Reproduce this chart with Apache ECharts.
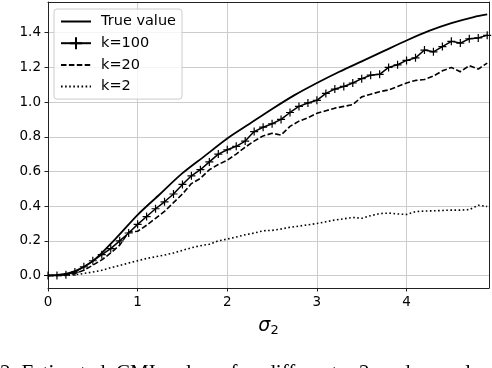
<!DOCTYPE html>
<html>
<head>
<meta charset="utf-8">
<script src="https://cdn.jsdelivr.net/npm/echarts@6/dist/echarts.min.js"></script>
<style>
  html, body { margin: 0; padding: 0; background: #fff; }
  #chart { width: 492px; height: 368px; }
</style>
</head>
<body>
<div id="chart"></div>
<script>
// sigma_2 grid of the estimates
const sigma = [0.0, 0.1, 0.2, 0.3, 0.4, 0.5, 0.6, 0.7, 0.8, 0.9,
  1.0, 1.1, 1.2, 1.3, 1.4, 1.5, 1.6, 1.7, 1.8, 1.9,
  2.0, 2.1, 2.2, 2.3, 2.4, 2.5, 2.6, 2.7, 2.8, 2.9,
  3.0, 3.1, 3.2, 3.3, 3.4, 3.5, 3.6, 3.7, 3.8, 3.9,
  4.0, 4.1, 4.2, 4.3, 4.4, 4.5, 4.6, 4.7, 4.8, 4.9];

const k100 = [0.0, 0.0, 0.004, 0.02, 0.05, 0.085, 0.12, 0.155, 0.2, 0.245,
  0.295, 0.34, 0.385, 0.425, 0.47, 0.525, 0.575, 0.61, 0.655, 0.7,
  0.725, 0.745, 0.775, 0.83, 0.855, 0.875, 0.9, 0.94, 0.975, 0.995,
  1.01, 1.05, 1.075, 1.09, 1.11, 1.135, 1.155, 1.16, 1.2, 1.215,
  1.24, 1.255, 1.3, 1.29, 1.32, 1.35, 1.34, 1.365, 1.37, 1.385];

const k20 = [0.0, 0.0, 0.002, 0.012, 0.03, 0.06, 0.09, 0.13, 0.175, 0.25,
  0.255, 0.29, 0.33, 0.37, 0.42, 0.47, 0.53, 0.56, 0.61, 0.64,
  0.665, 0.7, 0.74, 0.775, 0.805, 0.82, 0.81, 0.86, 0.89, 0.91,
  0.935, 0.95, 0.965, 0.975, 0.985, 1.03, 1.045, 1.06, 1.07, 1.09,
  1.11, 1.125, 1.13, 1.15, 1.18, 1.2, 1.175, 1.21, 1.19, 1.225];

const k2 = [0.0, 0.0, 0.0, 0.004, 0.012, 0.02, 0.03, 0.045, 0.058, 0.072,
  0.085, 0.098, 0.108, 0.118, 0.13, 0.145, 0.16, 0.172, 0.18, 0.2,
  0.21, 0.222, 0.235, 0.245, 0.258, 0.26, 0.268, 0.278, 0.285, 0.292,
  0.3, 0.31, 0.32, 0.327, 0.335, 0.33, 0.345, 0.357, 0.36, 0.355,
  0.352, 0.368, 0.372, 0.373, 0.375, 0.377, 0.377, 0.38, 0.405, 0.398];

// true value, read on a coarser grid
const trueSigma = [0.0, 0.25, 0.5, 0.75, 1.0, 1.25, 1.5, 1.75, 2.0, 2.25,
  2.5, 2.75, 3.0, 3.25, 3.5, 3.75, 4.0, 4.25, 4.5, 4.75, 4.9];
const trueValue = [0.0, 0.017, 0.083, 0.21, 0.35, 0.47, 0.59, 0.69, 0.79, 0.875,
  0.96, 1.04, 1.11, 1.175, 1.235, 1.295, 1.355, 1.41, 1.455, 1.49, 1.505];

const yTicks = [0.0, 0.2, 0.4, 0.6, 0.8, 1.0, 1.2, 1.4];

const seriesNames = ['True value', 'k=100', 'k=20', 'k=2'];

function pairs(xs, ys) {
  return xs.map((x, i) => [x, ys[i]]);
}

const font = 'DejaVu Sans';
const gridColor = '#cccccc';
const spine = '#222';
const xMin = 0, xMax = 4.92, yMin = -0.072, yMax = 1.577;
const chart = echarts.init(document.getElementById('chart'), null, { renderer: 'canvas' });

const option = {
  animation: false,
  backgroundColor: '#fff',
  grid: { left: 48, right: 3, top: 2, bottom: 80 },
  legend: {
    orient: 'vertical',
    left: 54, top: 9,
    padding: [5, 6, 5, 6],
    itemWidth: 30, itemHeight: 15, itemGap: 6.7,
    backgroundColor: 'rgba(255,255,255,0.8)',
    borderColor: '#cccccc', borderWidth: 1, borderRadius: 3,
    textStyle: { fontFamily: font, fontSize: 14.5, color: '#000', padding: [0, 0, 0, 5] },
    data: [
      { name: seriesNames[0], itemStyle: { opacity: 0 } },
      { name: seriesNames[1] },
      { name: seriesNames[2], itemStyle: { opacity: 0 } },
      { name: seriesNames[3], itemStyle: { opacity: 0 } }
    ]
  },
  xAxis: [{
    type: 'value',
    min: xMin, max: xMax, interval: 1,
    name: '{s|σ}{sub|2}',
    nameLocation: 'middle',
    nameGap: 27,
    nameTextStyle: {
      rich: {
        s: { fontFamily: font, fontStyle: 'italic', fontSize: 19, color: '#000' },
        sub: { fontFamily: font, fontSize: 13, color: '#000', padding: [9, 0, 0, 0] }
      }
    },
    axisLine: { show: true, onZero: false, lineStyle: { color: spine, width: 1 } },
    axisTick: { show: true, length: 3.5, lineStyle: { color: spine } },
    axisLabel: { fontFamily: font, fontSize: 13.5, color: '#000', margin: 7, showMaxLabel: false },
    splitLine: { show: true, lineStyle: { color: gridColor, width: 1 } }
  }, {
    // top spine
    type: 'value', position: 'top',
    min: xMin, max: xMax,
    axisLine: { show: true, onZero: false, lineStyle: { color: spine, width: 1 } },
    axisTick: { show: false }, axisLabel: { show: false }, splitLine: { show: false }
  }],
  yAxis: [{
    type: 'value',
    min: yMin, max: yMax, interval: 0.2,
    axisLine: { show: true, onZero: false, lineStyle: { color: spine, width: 1 } },
    axisTick: { show: true, length: 3.5, customValues: yTicks, lineStyle: { color: spine } },
    axisLabel: {
      fontFamily: font, fontSize: 13.5, color: '#000', margin: 7,
      customValues: yTicks,
      formatter: v => v.toFixed(1)
    },
    splitLine: { show: true, lineStyle: { color: gridColor, width: 1 } }
  }, {
    // right spine
    type: 'value', position: 'right',
    min: yMin, max: yMax,
    axisLine: { show: true, onZero: false, lineStyle: { color: spine, width: 1 } },
    axisTick: { show: false }, axisLabel: { show: false }, splitLine: { show: false }
  }],
  graphic: [{
    // caption of the figure, cut off by the bottom edge
    type: 'text',
    x: 0, y: 363,
    style: {
      text: '2: Estimated  CMI  values  for  different  σ2  and  sample  sizes  k',
      font: '21px "Liberation Serif"',
      verticalAlign: 'top',
      fill: '#000'
    }
  }],
  series: [
    {
      name: 'True value', type: 'line',
      data: pairs(trueSigma, trueValue),
      smooth: 0.3, symbol: 'none',
      lineStyle: { color: '#000', width: 1.8 },
      itemStyle: { color: '#000' }
    },
    {
      name: 'k=100', type: 'line',
      data: pairs(sigma, k100),
      symbol: 'path://M5,0L5,10M0,5L10,5',
      symbolSize: 8, showAllSymbol: true,
      lineStyle: { color: '#000', width: 1.5 },
      itemStyle: { color: 'transparent', borderColor: '#000', borderWidth: 1.2 }
    },
    {
      name: 'k=20', type: 'line',
      data: pairs(sigma, k20),
      symbol: 'none',
      lineStyle: { color: '#000', width: 1.6, type: [5.5, 2.4] },
      itemStyle: { color: '#000' }
    },
    {
      name: 'k=2', type: 'line',
      data: pairs(sigma, k2),
      symbol: 'none',
      lineStyle: { color: '#000', width: 1.6, type: [1.6, 2.5] },
      itemStyle: { color: '#000' }
    }
  ]
};

chart.setOption(option);
</script>
</body>
</html>
